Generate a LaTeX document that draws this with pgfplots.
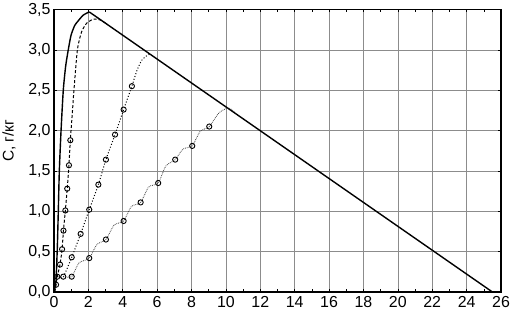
\documentclass[border=0pt]{standalone}
\usepackage{fontspec}
\setmainfont{Liberation Sans}
\usepackage{pgfplots}
\pgfplotsset{compat=1.18}
\begin{document}
\begin{tikzpicture}[x=1bp,y=1bp]
\begin{axis}[
  scale only axis,
  width=447bp, height=282.5bp,
  xmin=0, xmax=26, ymin=0, ymax=3.5,
  xtick={0,2,...,26}, ytick={0,0.5,...,3.5},
  minor x tick num=1,
  tick align=inside,
  major tick length=3bp, minor tick length=3bp,
  grid=major,
  major grid style={black!45, line width=0.6bp},
  axis line style={black, line width=1.1bp},
  tick style={black, line width=0.6bp},
  tick label style={font=\fontsize{16}{18}\selectfont},
  /pgf/number format/assume math mode=true,
  yticklabel style={/pgf/number format/.cd, fixed, fixed zerofill, precision=1, use comma},
  xticklabel style={/pgf/number format/.cd, fixed, precision=0},
  xticklabel shift=1bp, yticklabel shift=0bp,
  ylabel={C, г/кг},
  label style={font=\fontsize{15.5}{18}\selectfont},
  ylabel style={at={(rel axis cs:-0.1007,0.535)}, anchor=center},
]
% solid curve
\addplot[black, line width=1.4bp, smooth, tension=0.4] coordinates {
(0,0) (0.1,0.1) (0.15,0.3) (0.2,0.6) (0.25,1.0) (0.31,1.5) (0.41,2.0) (0.54,2.5) (0.68,2.8) (0.83,3.0) (0.99,3.18) (1.2,3.3) (1.41,3.36) (1.7,3.43) (2.05,3.47)};
\addplot[black, line width=1.4bp] coordinates {(2.05,3.47) (25.5,0)};
% dashed curve
\addplot[black, line width=1bp, dash pattern=on 3bp off 2bp, smooth, tension=0.4] coordinates {
(0.05,0.0) (0.12,0.09) (0.19,0.19) (0.35,0.34) (0.47,0.53) (0.55,0.76) (0.66,1.01) (0.77,1.28) (0.87,1.57) (0.95,1.88) (1.06,2.2) (1.16,2.5) (1.36,3.0) (1.6,3.22) (1.9,3.33) (2.3,3.38) (2.7,3.37) (3.0,3.33)};
\addplot[only marks, mark=o, mark size=2.6bp, mark options={black, line width=0.9bp}] coordinates {
(0.12,0.09) (0.19,0.19) (0.35,0.34) (0.47,0.53) (0.55,0.76) (0.66,1.01) (0.77,1.28) (0.87,1.57) (0.95,1.88)};
% middle dotted curve
\addplot[black, line width=1bp, dotted, smooth, tension=0.4] coordinates {
(0.2,0.19) (0.54,0.19) (1.03,0.43) (1.55,0.72) (2.05,1.02) (2.58,1.33) (3.02,1.64) (3.55,1.95) (4.05,2.26) (4.53,2.55) (4.8,2.73) (5.1,2.87) (5.5,2.94) (5.8,2.92)};
\addplot[only marks, mark=o, mark size=2.6bp, mark options={black, line width=0.9bp}] coordinates {
(0.54,0.19) (1.03,0.43) (1.55,0.72) (2.05,1.02) (2.58,1.33) (3.02,1.64) (3.55,1.95) (4.05,2.26) (4.53,2.55)};
% lower curve
\addplot[black!75, line width=0.8bp, densely dotted, smooth, tension=0.4] coordinates {
(0.54,0.19) (1.03,0.19) (1.45,0.36) (2.05,0.42) (2.5,0.59) (3.02,0.65) (3.5,0.83) (4.05,0.88) (4.5,1.06) (5.04,1.11) (5.5,1.3) (6.06,1.35) (6.5,1.56) (7.05,1.64) (7.5,1.77) (8.04,1.81) (8.5,1.99) (9.03,2.05) (9.6,2.22) (10.14,2.28) (10.5,2.23)};
\addplot[only marks, mark=o, mark size=2.6bp, mark options={black, line width=0.9bp}] coordinates {
(1.03,0.19) (2.05,0.42) (3.02,0.65) (4.05,0.88) (5.04,1.11) (6.06,1.35) (7.05,1.64) (8.04,1.81) (9.03,2.05)};
\end{axis}
\pgfresetboundingbox
\path (current axis.south west) ++(-54bp,-27bp) coordinate (bl);
\path (current axis.south west) ++(458bp,292bp) coordinate (tr);
\path[use as bounding box] (bl) rectangle (tr);
\end{tikzpicture}
\end{document}
